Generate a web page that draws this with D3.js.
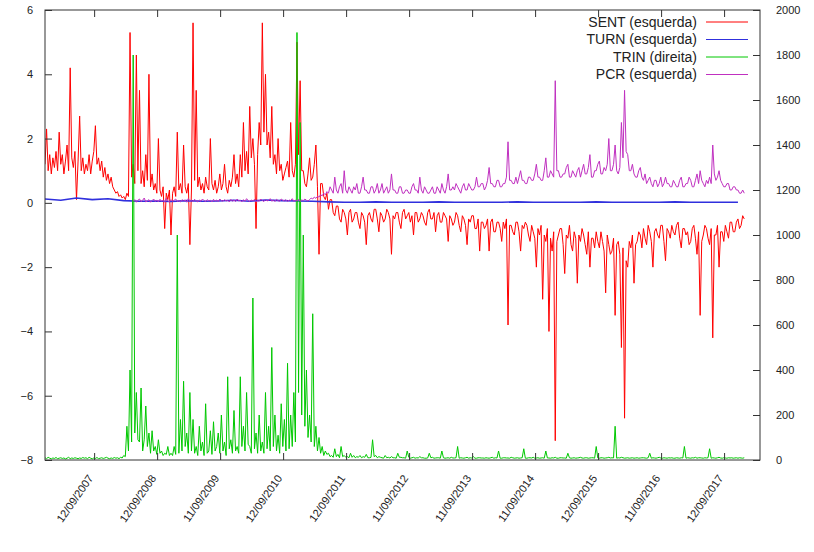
<!DOCTYPE html>
<html>
<head>
<meta charset="utf-8">
<script src="https://cdn.jsdelivr.net/npm/d3@7"></script>
<style>
  body { margin: 0; background: #fff; }
  svg { display: block; }
  text { font-family: "Liberation Sans", Arial, sans-serif; fill: #222; }
</style>
</head>
<body>
<svg id="chart" width="814" height="552"></svg>
<script>
// x axis: years since the first labelled date; samples every 0.025 year
const dateLabels = ["12/09/2007", "12/09/2008", "11/09/2009", "12/09/2010", "12/09/2011",
  "11/09/2012", "11/09/2013", "11/09/2014", "12/09/2015", "11/09/2016", "12/09/2017"];
const xTicks = [0, 1, 2, 3, 4, 5, 6, 7, 8, 9, 10];
const leftTicks = [-8, -6, -4, -2, 0, 2, 4, 6];
const rightTicks = [0, 200, 400, 600, 800, 1000, 1200, 1400, 1600, 1800, 2000];
const seriesNames = ["SENT (esquerda)", "TURN (esquerda)", "TRIN (direita)", "PCR (esquerda)"];
const seriesColors = ["#ff0000", "#3030dd", "#00c800", "#c030c0"];

const startYear = -0.78;
const sampleStep = 0.025;
const turnStep = 0.25;

const sent = [
  1.2, 2.3, 1.0, 1.5, 0.9, 1.4, 1.1, 1.6, 1.0, 2.2, 1.2, 1.5, 0.9, 1.3, 1.8, 1.0, 4.2, 1.4, 1.1, 1.6,
  0.1, 1.3, 2.7, 1.0, 1.4, 0.9, 1.2, 1.0, 1.5, 0.9, 1.3, 1.6, 2.4, 1.2, 1.4, 1.0, 1.3, 0.8, 1.1, 0.7,
  0.9, 0.6, 0.8, 0.5, 0.4, 0.3, 0.35, 0.2, 0.25, 0.15, 0.2, 0.1, 0.3, 0.2, 5.3, 0.8, 1.2, 0.6, 4.6, 1.0,
  3.5, 0.6, 1.0, 0.5, 1.5, 0.7, 4.0, 0.5, 0.9, 0.4, 0.6, 0.3, 2.0, 0.4, 0.2, 0.5, -0.8, 0.3, 0.1, 0.4,
  -1.0, 0.3, 0.5, 0.2, 2.2, 0.4, 0.6, 0.3, 1.8, 0.5, 0.3, 0.6, -1.3, 0.4, 5.6, 0.7, 3.5, 0.5, 0.8, 0.4,
  0.6, 0.3, 0.8, 0.5, 0.4, 2.0, 0.6, 0.4, 0.7, 0.3, 0.5, 0.9, 0.4, 0.6, 1.2, 0.5, 0.3, 0.7, 0.5, 0.8,
  1.5, 0.6, 0.9, 0.5, 1.5, 0.8, 2.5, 1.0, 1.6, 0.9, 3.0, 1.4, 2.0, 1.2, -0.8, 1.5, 2.5, 1.8, 5.6, 2.2,
  4.0, 1.8, 2.2, 1.4, 3.0, 1.2, 1.5, 0.9, 2.0, 1.0, 1.2, 0.7, 0.9, 1.1, 1.3, 0.8, 2.5, 1.0, 0.8, 1.2,
  5.0, 1.5, 3.8, 1.0, 1.0, 0.6, 0.5, 0.9, 1.4, 0.7, 0.8, 1.2, 1.8, 0.5, -1.6, 0.6, 0.6, 0.2, 0.1, 0.3,
  -0.2, 0.1, 0.1, -0.3, -0.4, -0.1, -0.1, -0.5, -0.6, -0.2, -0.3, -0.5, -1.0, -0.3, -0.2, -0.6, -0.5, -0.3, -0.3, -0.6,
  -0.8, -0.3, -0.4, -0.6, -1.3, -0.4, -0.3, -0.5, -0.6, -0.2, -0.2, -0.5, -0.9, -0.3, -0.4, -0.6, -0.5, -0.2, -0.3, -0.5,
  -1.6, -0.4, -0.5, -0.3, -0.3, -0.6, -0.8, -0.3, -0.2, -0.5, -0.4, -0.3, -0.6, -0.4, -1.0, -0.3, -0.3, -0.6, -0.5, -0.3,
  -0.4, -0.6, -0.7, -0.3, -0.2, -0.5, -0.5, -0.3, -0.9, -0.4, -0.3, -0.6, -0.6, -0.3, -0.4, -0.5, -1.2, -0.4, -0.5, -0.7,
  -0.6, -0.3, -0.4, -0.7, -0.9, -0.4, -0.5, -0.7, -1.3, -0.5, -0.6, -0.4, -0.4, -0.8, -0.8, -0.5, -1.5, -0.6, -0.6, -0.8,
  -0.7, -0.5, -1.5, -0.6, -0.5, -0.9, -0.9, -0.6, -0.6, -0.8, -1.2, -0.6, -0.8, -0.5, -3.8, -0.7, -0.7, -0.9, -1.0, -0.6,
  -0.6, -0.9, -1.5, -0.7, -0.8, -0.6, -0.7, -1.0, -1.2, -0.7, -0.9, -1.1, -2.0, -0.8, -1.0, -0.7, -3.0, -1.0, -1.2, -0.8,
  -4.0, -1.1, -1.5, -0.9, -7.4, -1.2, -1.0, -0.8, -0.8, -1.3, -2.2, -1.0, -1.1, -0.7, -1.3, -1.5, -0.9, -1.1, -2.5, -1.0,
  -1.2, -0.8, -1.0, -1.3, -1.6, -0.9, -2.0, -1.1, -1.1, -1.4, -0.9, -1.2, -1.4, -0.9, -1.2, -1.5, -2.8, -1.0, -1.3, -1.6,
  -1.5, -1.1, -3.5, -1.3, -1.2, -1.6, -4.5, -1.4, -6.7, -1.8, -2.0, -1.2, -1.4, -1.0, -2.5, -1.3, -1.2, -0.9, -1.0, -1.4,
  -0.8, -1.1, -1.3, -0.7, -0.9, -1.2, -2.0, -0.9, -0.8, -1.0, -1.1, -0.7, -0.7, -1.2, -1.8, -0.8, -0.9, -1.1, -0.7, -0.9,
  -1.0, -0.7, -0.6, -1.1, -1.4, -0.8, -0.8, -1.0, -0.9, -1.3, -1.2, -0.8, -0.7, -1.1, -1.6, -0.9, -3.5, -1.2, -1.0, -0.7,
  -0.8, -1.1, -1.3, -0.8, -4.2, -1.0, -1.0, -0.7, -2.0, -0.9, -0.9, -1.2, -0.7, -0.9, -1.1, -0.6, -0.6, -0.9, -0.9, -0.6,
  -0.5, -0.8, -0.7, -0.4, -0.5
];

const turn = [
  0.12, 0.08, 0.15, 0.10, 0.13, 0.07, 0.05, 0.06, 0.04, 0.07,
  0.05, 0.06, 0.08, 0.05, 0.09, 0.07, 0.06, 0.05, 0.03, 0.02,
  0.02, 0.03, 0.02, 0.02, 0.02, 0.03, 0.02, 0.02, 0.02, 0.02,
  0.03, 0.02, 0.02, 0.02, 0.02, 0.03, 0.02, 0.02, 0.02, 0.02,
  0.03, 0.02, 0.02, 0.02, 0.02
];

const trin = [
  10, 6, 12, 8, 5, 9, 7, 11, 6, 8, 10, 7, 9, 5, 8, 12, 6, 9, 7, 10,
  8, 6, 9, 7, 11, 8, 10, 6, 12, 8, 5, 9, 7, 11, 6, 8, 10, 7, 9, 12,
  8, 6, 9, 7, 11, 8, 10, 6, 12, 9, 20, 15, 150, 40, 400, 80, 1800, 120, 300, 90,
  80, 320, 40, 90, 240, 60, 120, 30, 130, 40, 60, 25, 90, 30, 40, 20, 30, 25, 60, 20,
  30, 20, 60, 25, 1000, 30, 180, 40, 350, 60, 120, 30, 300, 40, 180, 30, 60, 20, 150, 40,
  80, 20, 250, 30, 40, 130, 25, 170, 40, 60, 120, 30, 200, 40, 80, 20, 370, 50, 90, 30,
  220, 40, 60, 30, 370, 60, 150, 40, 300, 70, 60, 30, 720, 50, 120, 30, 200, 40, 80, 30,
  300, 50, 150, 40, 500, 60, 200, 40, 110, 30, 250, 60, 180, 40, 430, 50, 200, 60, 300, 80,
  1900, 300, 1500, 200, 1000, 150, 400, 100, 200, 80, 650, 60, 150, 40, 100, 30, 60, 20, 40, 25,
  30, 15, 20, 12, 50, 15, 25, 10, 60, 15, 20, 12, 15, 10, 30, 12, 20, 10, 15, 12,
  20, 10, 15, 12, 25, 10, 10, 12, 90, 15, 20, 10, 15, 12, 10, 8, 20, 10, 12, 9,
  15, 10, 10, 8, 30, 12, 12, 10, 10, 8, 40, 12, 8, 10, 12, 8, 10, 9, 15, 10,
  10, 8, 8, 9, 30, 10, 12, 8, 9, 10, 10, 8, 40, 10, 8, 9, 10, 8, 12, 9,
  9, 10, 60, 8, 10, 9, 8, 10, 12, 8, 10, 9, 15, 8, 8, 10, 10, 9, 9, 8,
  10, 9, 8, 10, 12, 8, 10, 9, 40, 8, 8, 10, 10, 9, 9, 8, 12, 10, 8, 9,
  10, 8, 9, 10, 50, 8, 8, 10, 10, 9, 12, 8, 9, 10, 8, 9, 10, 8, 40, 9,
  9, 8, 10, 9, 12, 8, 8, 10, 10, 9, 9, 8, 30, 10, 8, 9, 10, 8, 9, 10,
  12, 9, 8, 10, 10, 8, 9, 10, 10, 8, 60, 9, 8, 10, 10, 8, 9, 10, 12, 9,
  10, 9, 150, 8, 10, 9, 12, 10, 8, 9, 10, 8, 9, 10, 8, 9, 10, 8, 9, 10,
  10, 9, 8, 10, 30, 8, 10, 9, 8, 10, 12, 9, 8, 10, 9, 8, 10, 9, 10, 8,
  8, 10, 9, 8, 10, 9, 60, 8, 10, 9, 8, 10, 9, 12, 8, 10, 10, 9, 8, 10,
  9, 10, 50, 8, 10, 9, 8, 10, 12, 9, 8, 10, 9, 8, 10, 9, 10, 8, 9, 10,
  8, 10, 9, 8, 10
];

const pcr = [
  null, null, null, null, null, null, null, null, null, null, null, null, null, null, null, null, null, null, null, null,
  null, null, null, null, null, null, null, null, null, null, null, null, null, null, null, null, null, null, null, null,
  null, null, null, null, null, null, null, null, null, null, null, null, null, null, null, null, 0.05, 0.10, 0.02, 0.08,
  0.12, 0.04, 0.08, 0.15, 0.03, 0.06, 0.10, 0.02, 0.07, 0.12, 0.04, 0.09, 0.03, 0.11, 0.05, 0.08, 0.02, 0.14, 0.06, 0.03,
  0.10, 0.05, 0.08, 0.12, 0.04, 0.07, 0.03, 0.10, 0.06, 0.09, 0.02, 0.13, 0.05, 0.08, 0.04, 0.11, 0.06, 0.03, 0.09, 0.05,
  0.12, 0.07, 0.04, 0.10, 0.06, 0.08, 0.03, 0.11, 0.05, 0.09, 0.04, 0.12, 0.07, 0.05, 0.10, 0.06, 0.08, 0.03, 0.11, 0.05,
  0.09, 0.04, 0.12, 0.06, 0.08, 0.03, 0.10, 0.05, 0.13, 0.07, 0.04, 0.09, 0.06, 0.11, 0.03, 0.08, 0.05, 0.12, 0.07, 0.04,
  0.10, 0.06, 0.08, 0.13, 0.05, 0.09, 0.04, 0.11, 0.07, 0.05, 0.12, 0.08, 0.06, 0.10, 0.04, 0.09, 0.07, 0.13, 0.05, 0.08,
  0.06, 0.11, 0.05, 0.09, 0.07, 0.12, 0.08, 0.06, 0.10, 0.15, 0.12, 0.18, 0.14, 0.20, 0.18, 0.25, 0.22, 0.30, 0.25, 0.35,
  0.3, 0.5, 0.4, 0.3, 0.8, 0.4, 0.3, 0.5, 0.6, 0.3, 1.0, 0.4, 0.3, 0.5, 0.4, 0.3, 0.5, 0.4, 0.6, 0.3,
  0.3, 0.5, 0.8, 0.4, 0.4, 0.3, 0.3, 0.5, 0.5, 0.3, 0.4, 0.6, 0.3, 0.4, 0.6, 0.3, 0.4, 0.5, 0.3, 0.4,
  0.9, 0.4, 0.4, 0.3, 0.3, 0.5, 0.5, 0.3, 0.3, 0.4, 0.4, 0.3, 0.3, 0.5, 0.6, 0.4, 0.4, 0.3, 0.8, 0.4,
  0.3, 0.5, 0.4, 0.3, 0.3, 0.4, 0.5, 0.3, 0.3, 0.5, 0.4, 0.3, 0.6, 0.4, 0.3, 0.5, 0.9, 0.4, 0.4, 0.5,
  0.4, 0.6, 0.5, 0.4, 0.3, 0.5, 0.6, 0.4, 0.4, 0.6, 0.5, 0.4, 0.4, 0.5, 0.8, 0.5, 0.5, 0.6, 0.6, 0.4,
  0.5, 0.7, 1.1, 0.6, 0.6, 0.5, 0.5, 0.7, 0.7, 0.5, 0.5, 0.6, 0.6, 0.8, 1.9, 0.7, 0.7, 0.6, 0.6, 0.8,
  0.6, 0.8, 1.0, 0.7, 0.7, 0.6, 0.6, 0.8, 0.8, 0.7, 0.7, 0.9, 1.2, 0.8, 0.8, 0.7, 0.7, 1.0, 1.4, 0.8,
  0.8, 1.0, 0.9, 0.8, 3.8, 1.0, 1.0, 0.8, 0.8, 0.9, 0.9, 1.1, 1.2, 0.8, 0.8, 1.0, 0.9, 0.8, 1.0, 1.1,
  0.8, 1.0, 1.2, 0.9, 0.9, 1.1, 1.5, 0.8, 0.8, 1.0, 1.0, 1.2, 1.3, 0.9, 0.9, 1.1, 1.0, 1.2, 2.0, 1.0,
  1.0, 1.2, 1.8, 1.0, 0.9, 1.1, 2.5, 1.4, 3.5, 1.6, 1.5, 1.0, 1.0, 1.2, 0.9, 0.8, 0.8, 1.0, 1.1, 0.8,
  0.7, 0.9, 0.6, 0.7, 0.8, 0.6, 0.5, 0.7, 0.7, 0.5, 0.6, 0.8, 0.5, 0.6, 0.8, 0.6, 0.6, 0.5, 0.5, 0.7,
  0.6, 0.5, 0.5, 0.7, 0.8, 0.5, 0.5, 0.6, 0.6, 0.8, 0.7, 0.5, 0.5, 0.7, 0.9, 0.6, 1.0, 0.7, 0.6, 0.5,
  0.7, 0.6, 0.8, 0.6, 1.8, 0.9, 0.7, 0.8, 1.0, 0.7, 0.6, 0.5, 0.5, 0.6, 0.6, 0.4, 0.4, 0.5, 0.5, 0.4,
  0.4, 0.3, 0.3, 0.4, 0.3
];

const plot = { left: 45, right: 760, top: 10, bottom: 460 };

const svg = d3.select("#chart");

const x = d3.scaleLinear().domain([startYear, 10.57]).range([plot.left, plot.right]);
const yL = d3.scaleLinear().domain([-8, 6]).range([plot.bottom, plot.top]);
const yR = d3.scaleLinear().domain([0, 2000]).range([plot.bottom, plot.top]);

svg.append("defs").append("clipPath").attr("id", "plotclip")
  .append("rect")
  .attr("x", plot.left).attr("y", plot.top)
  .attr("width", plot.right - plot.left).attr("height", plot.bottom - plot.top);

function lineFor(values, stepSize, yScale) {
  return d3.line()
    .defined(d => d != null)
    .x((d, i) => x(startYear + i * stepSize))
    .y(d => yScale(d))(values);
}

const marks = svg.append("g").attr("clip-path", "url(#plotclip)");

const drawn = [
  { values: sent, step: sampleStep, scale: yL, color: seriesColors[0], width: 1 },
  { values: turn, step: turnStep, scale: yL, color: seriesColors[1], width: 1.6 },
  { values: trin, step: sampleStep, scale: yR, color: seriesColors[2], width: 1 },
  { values: pcr, step: sampleStep, scale: yL, color: seriesColors[3], width: 1 }
];

drawn.forEach(s => {
  marks.append("path")
    .attr("d", lineFor(s.values, s.step, s.scale))
    .attr("fill", "none")
    .attr("stroke", s.color)
    .attr("stroke-width", s.width)
    .attr("stroke-linejoin", "round");
});

// axes with inward ticks
const fontSize = 11;

const axisLeftG = svg.append("g").attr("transform", `translate(${plot.left},0)`)
  .call(d3.axisLeft(yL).tickValues(leftTicks).tickFormat(d3.format("d")).tickSize(-7).tickPadding(12));
const axisRightG = svg.append("g").attr("transform", `translate(${plot.right},0)`)
  .call(d3.axisRight(yR).tickValues(rightTicks).tickFormat(d3.format("d")).tickSize(-7).tickPadding(16));
const axisBottomG = svg.append("g").attr("transform", `translate(0,${plot.bottom})`)
  .call(d3.axisBottom(x).tickValues(xTicks).tickFormat(i => dateLabels[i]).tickSize(-7));
const axisTopG = svg.append("g").attr("transform", `translate(0,${plot.top})`)
  .call(d3.axisTop(x).tickValues(xTicks).tickFormat("").tickSize(-7));

[axisLeftG, axisRightG, axisBottomG, axisTopG].forEach(a => {
  a.select(".domain").remove();
  a.selectAll("line").attr("stroke", "#333");
  a.selectAll("text").attr("font-size", fontSize).attr("font-family", null).attr("fill", "#333");
});

axisBottomG.selectAll("text")
  .attr("x", 0).attr("y", 0).attr("dy", "0.35em")
  .attr("fill", "#555")
  .attr("text-anchor", "end")
  .attr("transform", "translate(-4,16) rotate(-55)");

svg.append("rect")
  .attr("x", plot.left).attr("y", plot.top)
  .attr("width", plot.right - plot.left).attr("height", plot.bottom - plot.top)
  .attr("fill", "none").attr("stroke", "#333").attr("stroke-width", 1);

// key
const key = svg.append("g");
seriesNames.forEach((name, i) => {
  const yy = 22 + i * 17.5;
  key.append("text")
    .attr("x", 697).attr("y", yy).attr("dy", "0.35em")
    .attr("text-anchor", "end").attr("font-size", 14)
    .attr("font-family", "'DejaVu Sans', sans-serif").attr("fill", "#444")
    .text(name);
  key.append("line")
    .attr("x1", 706).attr("x2", 748).attr("y1", yy).attr("y2", yy)
    .attr("stroke", seriesColors[i]).attr("stroke-width", 1);
});
</script>
</body>
</html>
